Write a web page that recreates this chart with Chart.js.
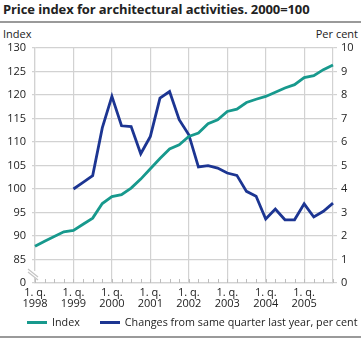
<!DOCTYPE html>
<html>
<head>
<meta charset="utf-8">
<script src="https://cdn.jsdelivr.net/npm/chart.js@4/dist/chart.umd.min.js"></script>
<style>
  html, body { margin: 0; padding: 0; background: #fff; }
  #wrap { position: relative; width: 361px; height: 338px; overflow: hidden; font-family: "Open Sans", sans-serif; color: #222; }
  #title { position: absolute; left: 3px; top: 0px; font-size: 13px; font-weight: bold; white-space: nowrap; letter-spacing: -0.1px; }
  #rule1 { position: absolute; left: 0; top: 21px; width: 361px; height: 2px; background: #9a9a9a; }
  #rule2 { position: absolute; left: 0; top: 336px; width: 361px; height: 2px; background: #9a9a9a; }
  .axt { position: absolute; top: 26px; font-size: 11px; }
  #lt { left: 3px; }
  #rt { right: 3px; }
  canvas { position: absolute; left: 0; top: 0; }
  #legend { position: absolute; left: 27px; top: 315px; display: flex; align-items: center; font-size: 10.75px; white-space: nowrap; line-height: 15px; }
  #legend .item { display: flex; align-items: center; margin-right: 20px; }
  #legend .sw { display: inline-block; width: 20px; height: 3px; margin-right: 5px; }
</style>
</head>
<body>
<div id="wrap">
  <div id="title">Price index for architectural activities. 2000=100</div>
  <div id="rule1"></div>
  <div class="axt" id="lt">Index</div>
  <div class="axt" id="rt">Per cent</div>
  <canvas id="c" width="361" height="338"></canvas>
  <div id="legend"></div>
  <div id="rule2"></div>
</div>
<script>
// ---- data ----
const years = ['1998','1999','2000','2001','2002','2003','2004','2005'];
const quarters = ['1. q.','2. q.','3. q.','4. q.'];
const indexValues = [
  87.8, 88.9, 89.9, 90.9,
  91.2, 92.5, 93.8, 96.9,
  98.4, 98.8, 100.2, 102.1,
  104.3, 106.5, 108.5, 109.4,
  111.2, 111.9, 113.9, 114.7,
  116.5, 117.0, 118.4, 119.1,
  119.7, 120.6, 121.5, 122.2,
  123.7, 124.1, 125.4, 126.4
];
const changeValues = [
  null, null, null, null,
  4.0, 4.28, 4.57, 6.6,
  7.94, 6.69, 6.66, 5.5,
  6.24, 7.87, 8.15, 6.95,
  6.31, 4.94, 4.99, 4.89,
  4.68, 4.58, 3.9, 3.69,
  2.72, 3.15, 2.69, 2.69,
  3.37, 2.81, 3.05, 3.4
];
const leftTicks = [80, 85, 90, 95, 100, 105, 110, 115, 120, 125, 130];
const rightTicks = [0, 1, 2, 3, 4, 5, 6, 7, 8, 9, 10];
const seriesNames = ['Index', 'Changes from same quarter last year, per cent'];

const labels = [];
years.forEach(y => quarters.forEach(q => labels.push(q + ' ' + y)));

const TEAL = '#17998d';
const BLUE = '#1c3592';
const GRID = '#d2d2d2';

const extras = {
  id: 'extras',
  afterDraw(chart) {
    const ctx = chart.ctx;
    const x = chart.scales.x, y = chart.scales.y;
    const bottom = chart.chartArea.bottom, left = chart.chartArea.left;
    ctx.save();
    // inward minor ticks at each quarter
    ctx.strokeStyle = '#bdbdbd';
    ctx.lineWidth = 1;
    for (let i = 0; i < labels.length; i++) {
      const px = Math.round(x.getPixelForValue(i)) + 0.5;
      ctx.beginPath();
      ctx.moveTo(px, bottom);
      ctx.lineTo(px, bottom - 4);
      ctx.stroke();
    }
    // axis break
    const y80 = y.getPixelForValue(80);
    ctx.fillStyle = '#fff';
    ctx.fillRect(left - 3, y80 - 12, 6, 7);
    ctx.strokeStyle = '#c4c4c4';
    ctx.lineWidth = 1.2;
    [0, 3].forEach(d => {
      ctx.beginPath();
      ctx.moveTo(left - 7, y80 - 14 + d);
      ctx.lineTo(left + 3, y80 - 6 + d);
      ctx.stroke();
    });
    ctx.restore();
  }
};

const chart = new Chart(document.getElementById('c'), {
  type: 'line',
  data: {
    labels: labels,
    datasets: [
      { label: seriesNames[0], data: indexValues, yAxisID: 'y', borderColor: TEAL, backgroundColor: TEAL,
        borderWidth: 2.8, pointRadius: 0, tension: 0, fill: false },
      { label: seriesNames[1], data: changeValues, yAxisID: 'y1', borderColor: BLUE, backgroundColor: BLUE,
        borderWidth: 2.8, pointRadius: 0, tension: 0, fill: false, spanGaps: false }
    ]
  },
  options: {
    responsive: false,
    animation: false,
    events: [],
    layout: { padding: { top: 48, bottom: 31, left: 0, right: 0 } },
    plugins: {
      title: { display: false },
      tooltip: { enabled: false },
      legend: { display: false }
    },
    scales: {
      x: {
        type: 'category',
        offset: false,
        grid: {
          drawTicks: false,
          color: c => (c.index % 4 === 0 ? GRID : 'rgba(0,0,0,0)'),
          lineWidth: 1.2
        },
        border: { display: true, color: GRID, width: 1.2 },
        ticks: {
          autoSkip: false, maxRotation: 0, minRotation: 0, padding: 4,
          color: '#222', font: { family: 'Open Sans', size: 11, lineHeight: 1.05 },
          callback: (v, i) => (i % 4 === 0 ? [quarters[0], years[i / 4]] : '')
        },
        afterFit: s => { s.height = 24; }
      },
      y: {
        position: 'left',
        min: leftTicks[0], max: leftTicks[leftTicks.length - 1],
        afterBuildTicks: s => { s.ticks = leftTicks.map(v => ({ value: v })); },
        grid: { color: GRID, lineWidth: 1.2, tickLength: 3 },
        border: { display: true, color: GRID, width: 1.2 },
        ticks: {
          padding: 6, color: '#222', font: { family: 'Open Sans', size: 11 },
          callback: v => (v === leftTicks[0] ? '0' : String(v))
        },
        afterFit: s => { s.width = 35; }
      },
      y1: {
        position: 'right',
        min: rightTicks[0], max: rightTicks[rightTicks.length - 1],
        afterBuildTicks: s => { s.ticks = rightTicks.map(v => ({ value: v })); },
        grid: { drawOnChartArea: false, color: GRID, lineWidth: 1.2, tickLength: 4 },
        border: { display: true, color: GRID, width: 1.2 },
        ticks: { padding: 4, color: '#222', font: { family: 'Open Sans', size: 11 } },
        afterFit: s => { s.width = 28; }
      }
    }
  },
  plugins: [extras]
});

// legend built from the chart's own datasets
const legendEl = document.getElementById('legend');
chart.data.datasets.forEach(ds => {
  const item = document.createElement('span');
  item.className = 'item';
  const sw = document.createElement('span');
  sw.className = 'sw';
  sw.style.background = ds.borderColor;
  const tx = document.createElement('span');
  tx.textContent = ds.label;
  item.appendChild(sw);
  item.appendChild(tx);
  legendEl.appendChild(item);
});
</script>
</body>
</html>
